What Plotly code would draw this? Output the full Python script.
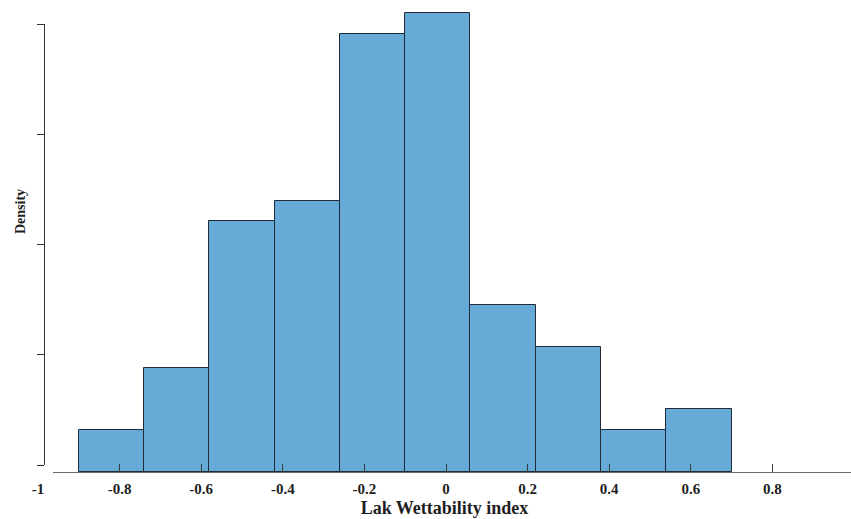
import plotly.graph_objects as go

# Histogram of the Lak wettability index (counts per bin, shown as density)
bin_edges = [-0.9, -0.74, -0.58, -0.42, -0.26, -0.10, 0.06, 0.22, 0.38, 0.54, 0.70]
bin_counts = [2, 5, 12, 13, 21, 22, 8, 6, 2, 3]

x_tick_vals = [-1, -0.8, -0.6, -0.4, -0.2, 0, 0.2, 0.4, 0.6, 0.8]
x_tick_text = ["-1", "-0.8", "-0.6", "-0.4", "-0.2", "0", "0.2", "0.4", "0.6", "0.8"]
x_mark_vals = [-0.8, -0.6, -0.4, -0.2, 0, 0.2, 0.4, 0.6, 0.8]
y_mark_vals = [0, 1, 2, 3, 4]

n_total = sum(bin_counts)
widths = [b - a for a, b in zip(bin_edges[:-1], bin_edges[1:])]
centers = [(a + b) / 2 for a, b in zip(bin_edges[:-1], bin_edges[1:])]
density = [c / (n_total * w) for c, w in zip(bin_counts, widths)]

W, H = 851, 519
ML, MR, MT, MB = 38, 0, 4, 47
plot_w = W - ML - MR
plot_h = H - MT - MB
px_per_x = 408.0
px_per_density = 314.0
x_min = -1.0
x_max = x_min + plot_w / px_per_x
y_max = plot_h / px_per_density

serif = "Liberation Serif"
ink = "#1e1e1e"

fig = go.Figure()
fig.add_trace(go.Bar(
    x=centers, y=density, width=widths,
    marker=dict(color="#66AAD7", line=dict(color="#1f2b38", width=1)),
    showlegend=False, hoverinfo="skip",
))
# empty trace so the secondary axes (baseline / left frame) are rendered
fig.add_trace(go.Scatter(x=[], y=[], xaxis="x2", yaxis="y2",
                         showlegend=False, hoverinfo="skip"))

line_start = 15 / plot_w
fig.update_layout(
    width=W, height=H,
    margin=dict(l=ML, r=MR, t=MT, b=MB),
    paper_bgcolor="white", plot_bgcolor="rgba(0,0,0,0)",
    bargap=0,
    xaxis=dict(
        range=[x_min, x_max], domain=[0, 1],
        tickvals=x_tick_vals, ticktext=x_tick_text,
        ticks="", showline=False, showgrid=False, zeroline=False,
        minor=dict(tickvals=x_mark_vals, ticks="inside", ticklen=8,
                   tickwidth=1, tickcolor="#3a3a3a", showgrid=False),
        layer="above traces",
        ticklabelstandoff=6,
        tickfont=dict(family=serif, size=15, color=ink, weight="bold"),
        title=dict(text="Lak Wettability index",
                   font=dict(family=serif, size=18, color=ink, weight="bold"),
                   standoff=5),
    ),
    yaxis=dict(range=[0, y_max], visible=False, domain=[0, 1]),
    xaxis2=dict(
        domain=[line_start, 1],
        range=[x_min + 15 / px_per_x, x_max],
        anchor="y", showticklabels=False, ticks="",
        showline=True, linecolor="#6a6a6a", linewidth=1,
        showgrid=False, zeroline=False,
    ),
    yaxis2=dict(
        domain=[7 / plot_h, (472 - 24) / plot_h],
        range=[0, 4], anchor="free", position=6 / plot_w,
        tickvals=y_mark_vals, showticklabels=False,
        ticks="outside", ticklen=7, tickwidth=1, tickcolor="#333333",
        showline=True, linecolor="#333333", linewidth=1,
        showgrid=False, zeroline=False,
    ),
    annotations=[dict(
        text="Density", textangle=-90, showarrow=False,
        xref="paper", yref="paper",
        x=(20 - ML) / plot_w, y=(472 - 212) / plot_h,
        xanchor="center", yanchor="middle",
        font=dict(family=serif, size=14, color=ink, weight="bold"),
    )],
)

fig.write_html("out.html")
